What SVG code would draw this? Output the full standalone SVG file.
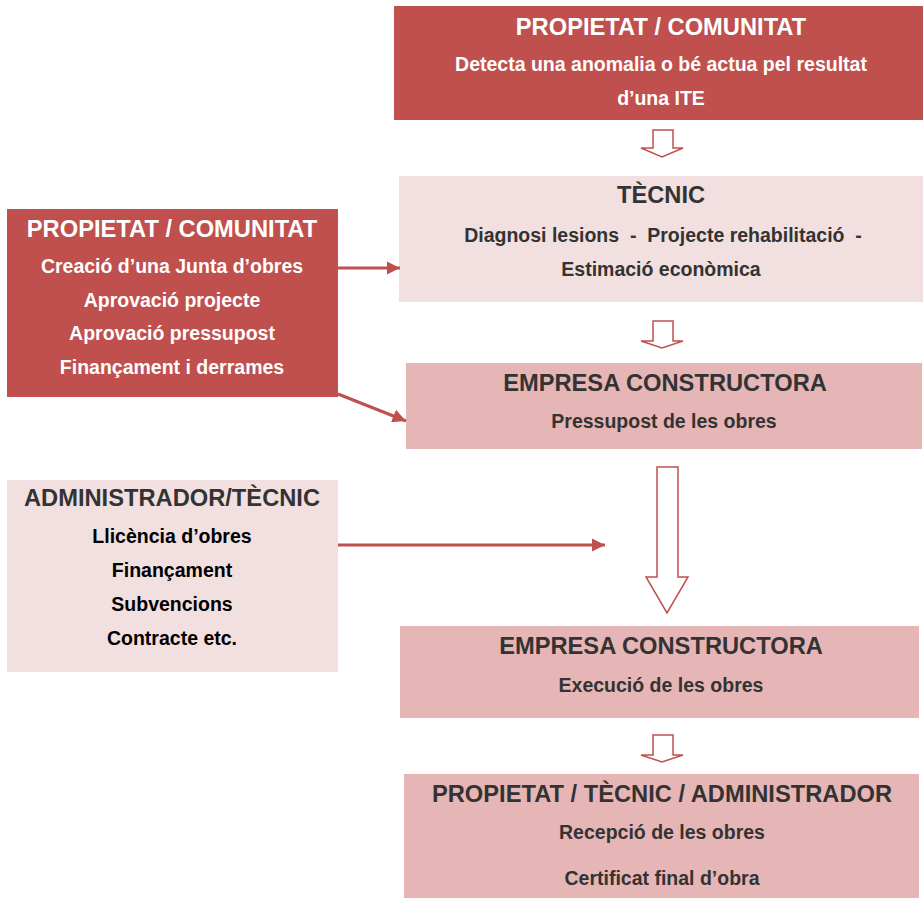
<svg xmlns="http://www.w3.org/2000/svg" width="923" height="898" viewBox="0 0 923 898">
<defs>
<style>
.t{font-family:"Liberation Sans",Arial,sans-serif;font-weight:bold;text-anchor:middle}
.h{font-size:23.7px}
.b{font-size:19.5px}
.w{fill:#ffffff}
.d{fill:#333333}
.k{fill:#000000}
.red{fill:#C0504D}
.lp{fill:#F2DFDF}
.mp{fill:#E5B6B5}
.blk{fill:#ffffff;stroke:#C0504D;stroke-width:1.5}
.con{stroke:#C0504D;stroke-width:3;fill:none}
</style>
<marker id="ah" viewBox="0 0 10 10" refX="10" refY="5" markerWidth="4.5" markerHeight="4.5" orient="auto" markerUnits="strokeWidth">
<path d="M0,0 L10,5 L0,10 Z" fill="#C0504D"/>
</marker>
</defs>
<rect width="923" height="898" fill="#ffffff"/>

<g id="n1">
<rect class="red" x="394" y="6" width="529" height="114"/>
<text class="t h w" x="661" y="35">PROPIETAT / COMUNITAT</text>
<text class="t b w" x="661" y="71">Detecta una anomalia o bé actua pel resultat</text>
<text class="t b w" x="661" y="105">d’una ITE</text>
</g>

<g id="n2">
<rect class="lp" x="399" y="176" width="524" height="126"/>
<text class="t h d" x="661" y="203">TÈCNIC</text>
<text class="t b d" x="663" y="242" xml:space="preserve">Diagnosi lesions  -  Projecte rehabilitació  -</text>
<text class="t b d" x="661" y="276">Estimació econòmica</text>
</g>

<g id="n3">
<rect class="mp" x="406" y="363" width="516" height="86"/>
<text class="t h d" x="665" y="391">EMPRESA CONSTRUCTORA</text>
<text class="t b d" x="664" y="428">Pressupost de les obres</text>
</g>

<g id="n4">
<rect class="mp" x="400" y="626" width="519" height="92"/>
<text class="t h d" x="661" y="654">EMPRESA CONSTRUCTORA</text>
<text class="t b d" x="661" y="692">Execució de les obres</text>
</g>

<g id="n5">
<rect class="mp" x="404" y="774" width="515" height="124"/>
<text class="t h d" x="662" y="802">PROPIETAT / TÈCNIC / ADMINISTRADOR</text>
<text class="t b d" x="662" y="839">Recepció de les obres</text>
<text class="t b d" x="662" y="885">Certificat final d’obra</text>
</g>

<g id="nA">
<rect class="red" x="7" y="209" width="331" height="188"/>
<text class="t h w" x="172" y="237">PROPIETAT / COMUNITAT</text>
<text class="t b w" x="172" y="273">Creació d’una Junta d’obres</text>
<text class="t b w" x="172" y="307">Aprovació projecte</text>
<text class="t b w" x="172" y="340">Aprovació pressupost</text>
<text class="t b w" x="172" y="374">Finançament i derrames</text>
</g>

<g id="nB">
<rect class="lp" x="7" y="480" width="331" height="192"/>
<text class="t h d" x="172" y="506">ADMINISTRADOR/TÈCNIC</text>
<text class="t b k" x="172" y="543">Llicència d’obres</text>
<text class="t b k" x="172" y="577">Finançament</text>
<text class="t b k" x="172" y="611">Subvencions</text>
<text class="t b k" x="172" y="645">Contracte etc.</text>
</g>

<g id="connectors">
<path class="blk" d="M653,130 H673 V148 H683 L662,157 L641,148 H653 Z"/>
<path class="blk" d="M653,321 H673 V341 H683 L662,348 L641,341 H653 Z"/>
<path class="blk" d="M657,467 H678 V577 H688 L667,613 L646,577 H657 Z"/>
<path class="blk" d="M653,735 H673 V755 H683 L662,762 L641,755 H653 Z"/>
<line class="con" x1="338" y1="268" x2="400" y2="268" marker-end="url(#ah)"/>
<line class="con" x1="338" y1="394" x2="406" y2="421" marker-end="url(#ah)"/>
<line class="con" x1="338" y1="545" x2="605" y2="545" marker-end="url(#ah)"/>
</g>
</svg>
